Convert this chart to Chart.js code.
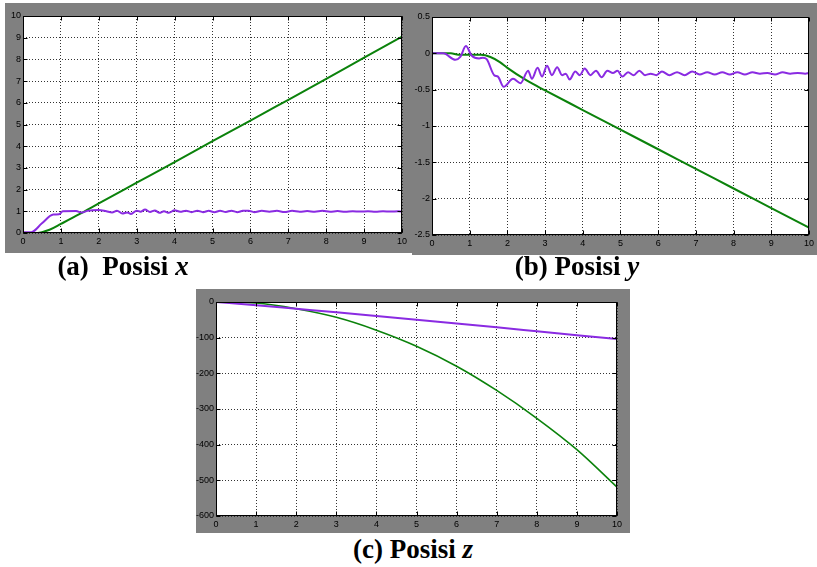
<!DOCTYPE html>
<html>
<head>
<meta charset="utf-8">
<script src="https://cdn.jsdelivr.net/npm/chart.js@4"></script>
<style>
  body { margin: 0; background: #fff; }
  #page { position: relative; width: 817px; height: 567px; overflow: hidden; }
  .panel { position: absolute; background: #808080; }
  .cap { position: absolute; font-family: "Liberation Serif", "Times New Roman", serif;
         font-weight: bold; font-size: 27px; color: #000; white-space: pre; transform: translateX(-50%); }
</style>
</head>
<body>
<div id="page">
  <canvas id="ca" class="panel"></canvas>
  <canvas id="cb" class="panel"></canvas>
  <canvas id="cc" class="panel"></canvas>
  <div class="cap" style="left:123px; top:251px;">(a)  Posisi <i>x</i></div>
  <div class="cap" style="left:577px; top:251px;">(b) Posisi <i>y</i></div>
  <div class="cap" style="left:413px; top:534px;">(c) Posisi <i>z</i></div>
</div>
<script>
// shared x ticks (time, s)
var xTicks = [0, 1, 2, 3, 4, 5, 6, 7, 8, 9, 10];

// (a) Posisi x
var yTicksA = [0, 1, 2, 3, 4, 5, 6, 7, 8, 9, 10];
var tGreenA = [0, 0.3, 0.5, 0.7, 1, 1.5, 2, 3, 4, 5, 6, 7, 8, 9, 10];
var greenA  = [0, 0, 0.04, 0.15, 0.42, 0.88, 1.37, 2.32, 3.27, 4.23, 5.18, 6.14, 7.1, 8.08, 9.05];
var tPurpleA = [0, 0.22, 0.5, 0.8, 0.95, 1.05, 1.4, 1.55, 1.7, 2.0, 2.2, 2.35, 2.48, 2.62, 2.75, 2.85,
                3.0, 3.1, 3.22, 3.35, 3.48, 3.6, 3.72, 3.85, 4.0, 4.15, 4.3, 4.45, 4.6, 4.75, 4.9,
                5.05, 5.2, 5.35, 5.5, 5.65, 5.8, 5.95, 6.1, 6.3, 6.5, 6.7, 6.9, 7.1, 7.3, 7.5, 7.7,
                7.9, 8.1, 8.3, 8.5, 8.7, 8.9, 9.1, 9.3, 9.5, 9.7, 9.9, 10];
var purpleA  = [0.04, 0.04, 0.45, 0.85, 0.86, 1.0, 1.01, 0.94, 1.02, 1.06, 1.0, 0.95, 1.03, 0.9, 0.95, 0.88,
                1.03, 0.98, 1.08, 0.97, 1.04, 0.93, 1.0, 0.93, 1.05, 0.98, 1.03, 0.96, 1.03, 0.96, 1.02,
                0.96, 1.02, 0.97, 1.03, 0.96, 1.02, 1.03, 0.96, 1.02, 0.98, 1.02, 0.97, 1.02, 0.98, 1.01, 0.98,
                1.02, 0.98, 1.01, 0.98, 1.0, 0.99, 1.0, 0.98, 1.0, 0.99, 1.0, 0.99];

// (b) Posisi y
var yTicksB = [0.5, 0, -0.5, -1, -1.5, -2, -2.5];
var tGreenB = [0, 0.5, 0.7, 1.0, 1.3, 1.55, 1.8, 2.0, 2.5, 3.0, 4.0, 5.0, 6.0, 7.0, 8.0, 9.0, 10];
var greenB  = [0, 0, -0.02, -0.02, -0.02, -0.05, -0.12, -0.2, -0.37, -0.51, -0.78, -1.05, -1.32, -1.59, -1.86, -2.13, -2.4];
var tPurpleB = [0, 0.3, 0.62, 0.75, 0.9, 1.05, 1.25, 1.35, 1.45, 1.65, 1.75, 1.9, 2.15, 2.35, 2.55, 2.65,
                2.8, 2.92, 3.05, 3.18, 3.32, 3.45, 3.55, 3.65, 3.8, 3.92, 4.05, 4.2, 4.35, 4.5, 4.65, 4.8,
                4.92, 5.05, 5.2, 5.35, 5.5, 5.65, 5.8, 5.95, 6.1, 6.3, 6.5, 6.7, 6.9, 7.1, 7.3, 7.5, 7.7,
                7.9, 8.1, 8.3, 8.5, 8.7, 8.9, 9.1, 9.3, 9.5, 9.7, 9.9, 10];
var purpleB  = [0, 0, -0.09, -0.05, 0.1, -0.03, -0.07, -0.06, -0.08, -0.3, -0.32, -0.46, -0.35, -0.41, -0.24, -0.35,
                -0.2, -0.32, -0.17, -0.3, -0.19, -0.3, -0.28, -0.36, -0.25, -0.3, -0.21, -0.3, -0.24, -0.33, -0.24, -0.27,
                -0.24, -0.32, -0.26, -0.3, -0.24, -0.3, -0.28, -0.3, -0.25, -0.3, -0.26, -0.3, -0.25, -0.29, -0.26, -0.29, -0.26,
                -0.29, -0.26, -0.29, -0.26, -0.28, -0.27, -0.29, -0.26, -0.28, -0.27, -0.28, -0.27];

// (c) Posisi z
var yTicksC = [0, -100, -200, -300, -400, -500, -600];
var tC      = [0, 1, 2, 3, 4, 5, 6, 7, 8, 9, 10];
var greenC  = [0, -3, -19, -43, -79, -124, -180, -248, -326, -414, -519];
var purpleC = [0, -9, -19, -29, -39.5, -50, -60.5, -71, -82, -93, -104];

function pts(t, v) {
  return t.map(function (x, i) { return { x: x, y: v[i] }; });
}

// white plot area, box and inward tick marks (matlab style)
var plotBox = {
  id: 'plotBox',
  beforeDraw: function (chart) {
    var a = chart.chartArea, ctx = chart.ctx;
    ctx.save();
    ctx.fillStyle = '#fff';
    ctx.fillRect(a.left, a.top, a.right - a.left, a.bottom - a.top);
    ctx.restore();
  },
  afterDraw: function (chart) {
    var a = chart.chartArea, ctx = chart.ctx;
    var L = Math.round(a.left) + 0.5, R = Math.round(a.right) - 0.5;
    var T = Math.round(a.top) + 0.5, B = Math.round(a.bottom) - 0.5;
    ctx.save();
    ctx.strokeStyle = '#000';
    ctx.lineWidth = 1;
    ctx.beginPath();
    chart.scales.x.ticks.forEach(function (tk) {
      var p = Math.round(chart.scales.x.getPixelForValue(tk.value)) + 0.5;
      ctx.moveTo(p, B); ctx.lineTo(p, B - 4);
      ctx.moveTo(p, T); ctx.lineTo(p, T + 4);
    });
    chart.scales.y.ticks.forEach(function (tk) {
      var p = Math.round(chart.scales.y.getPixelForValue(tk.value)) + 0.5;
      ctx.moveTo(L, p); ctx.lineTo(L + 4, p);
      ctx.moveTo(R, p); ctx.lineTo(R - 4, p);
    });
    ctx.stroke();
    ctx.strokeRect(L, T, R - L, B - T);
    ctx.restore();
  }
};

function plain(v) { return String(v); }

function makeChart(id, box, area, yTicks, series) {
  var cv = document.getElementById(id);
  cv.width = box[2]; cv.height = box[3];
  cv.style.left = box[0] + 'px'; cv.style.top = box[1] + 'px';
  var yw = area[0] - box[0];
  var xh = box[1] + box[3] - area[3];
  new Chart(cv, {
    type: 'line',
    data: {
      datasets: series.map(function (s) {
        return {
          data: s.data,
          borderColor: s.color,
          borderWidth: s.width,
          pointRadius: 0,
          cubicInterpolationMode: 'monotone',
          fill: false
        };
      })
    },
    options: {
      responsive: false,
      animation: false,
      layout: { padding: { left: 0, top: area[1] - box[1], right: box[0] + box[2] - area[2], bottom: 0 } },
      plugins: { legend: { display: false }, tooltip: { enabled: false } },
      scales: {
        x: {
          type: 'linear',
          min: xTicks[0], max: xTicks[xTicks.length - 1],
          afterBuildTicks: function (s) { s.ticks = xTicks.map(function (v) { return { value: v }; }); },
          afterFit: function (s) { s.height = xh; },
          grid: { color: '#333', lineWidth: 1, drawTicks: false },
          border: { display: false, dash: [1, 2] },
          ticks: { padding: 3, maxRotation: 0, color: '#000', callback: plain,
                   font: { family: 'Liberation Sans', size: 9 } }
        },
        y: {
          type: 'linear',
          min: Math.min.apply(null, yTicks), max: Math.max.apply(null, yTicks),
          afterBuildTicks: function (s) { s.ticks = yTicks.map(function (v) { return { value: v }; }); },
          afterFit: function (s) { s.width = yw; },
          grid: { color: '#333', lineWidth: 1, drawTicks: false },
          border: { display: false, dash: [1, 2] },
          ticks: { padding: 2, color: '#000', callback: plain,
                   font: { family: 'Liberation Sans', size: 9 } }
        }
      }
    },
    plugins: [plotBox]
  });
}

var GREEN = '#0b820b', PURPLE = '#8a2be2';

makeChart('ca', [5, 3, 407, 250], [23, 16, 402, 233], yTicksA, [
  { data: pts(tPurpleA, purpleA), color: PURPLE, width: 2 },
  { data: pts(tGreenA, greenA), color: GREEN, width: 2 }
]);
makeChart('cb', [412, 3, 405, 252], [432, 17, 811, 235], yTicksB, [
  { data: pts(tPurpleB, purpleB), color: PURPLE, width: 2 },
  { data: pts(tGreenB, greenB), color: GREEN, width: 2 }
]);
makeChart('cc', [196, 289, 434, 244], [216, 302, 617, 516], yTicksC, [
  { data: pts(tC, purpleC), color: PURPLE, width: 2 },
  { data: pts(tC, greenC), color: GREEN, width: 1.6 }
]);
</script>
</body>
</html>
